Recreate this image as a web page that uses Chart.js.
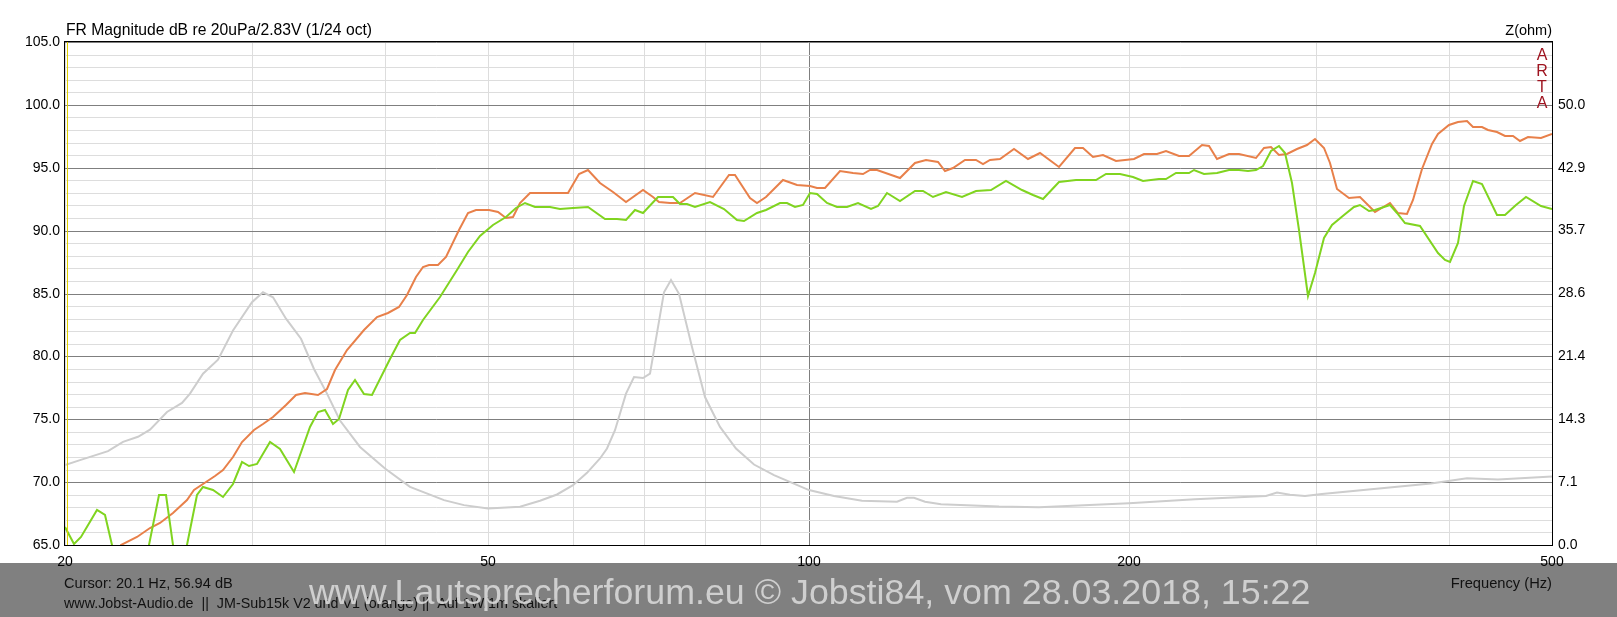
<!DOCTYPE html>
<html>
<head>
<meta charset="utf-8">
<title>JM-Sub15k V2 und V1 - FR Magnitude</title>
<script src="https://cdn.jsdelivr.net/npm/chart.js@4.4.1/dist/chart.umd.min.js"></script>
<style>
  html, body { margin: 0; padding: 0; background: #fff; }
  #fr-chart { display: block; }
</style>
</head>
<body>
<canvas id="fr-chart" width="1617" height="617"></canvas>
<script>
// V1 (orange): frequency (Hz) / SPL (dB)
const v1Freq = [20, 22.6, 23.36, 24.04, 24.56, 25.28, 26.04, 26.42, 26.98, 27.7, 28.18, 28.8, 29.33, 30.1, 30.7, 31.4, 32.3, 33.0, 33.6, 34.6, 35.27, 35.9, 36.82, 38.17, 39.3, 40.2, 41.2, 41.9, 42.8, 43.4, 44.0, 44.8, 45.6, 46.9, 47.8, 48.7, 50.1, 51.1, 51.9, 52.7, 53.5, 54.7, 57.6, 59.4, 60.9, 62.1, 63.7, 65.5, 67.4, 69.9, 71.4, 72.4, 74.1, 75.7, 78.2, 81.4, 84.1, 85.3, 88.1, 89.4, 91.3, 94.7, 97.5, 100.4, 101.8, 103.7, 107.1, 110.2, 112.6, 114.2, 115.9, 121.9, 126.0, 129.1, 132.4, 134.3, 136.8, 140.3, 143.8, 145.9, 148.1, 151.3, 156.0, 160.8, 164.9, 172.1, 177.9, 181.1, 185.1, 189.1, 194.6, 202.5, 206.8, 212.8, 216.7, 223.0, 227.8, 234.5, 237.9, 242.2, 248.5, 253.9, 263.2, 268.0, 271.9, 276.8, 281.8, 287.9, 294.5, 299.6, 305, 309.4, 313.9, 322, 330.1, 341, 352.1, 358.6, 365.1, 370.4, 377.1, 385.3, 390.9, 400, 408.1, 415.7, 421.7, 429.3, 435.6, 443.4, 451.5, 459.7, 466.3, 474.7, 488.5, 500];
const v1Db = [57, 65.0, 65.66, 66.32, 66.72, 67.57, 68.57, 69.37, 69.89, 70.48, 70.95, 72.0, 73.2, 74.13, 74.66, 75.19, 76.1, 76.9, 77.09, 76.9, 77.43, 78.89, 80.48, 82.06, 83.12, 83.44, 83.94, 84.87, 86.33, 87.13, 87.26, 87.26, 87.87, 90.05, 91.44, 91.65, 91.65, 91.46, 90.98, 91.06, 92.18, 93.03, 92.98, 92.98, 94.52, 94.79, 93.78, 93.11, 92.31, 93.24, 92.71, 92.31, 92.23, 92.23, 92.98, 92.71, 94.44, 94.44, 92.58, 92.23, 92.71, 93.99, 93.64, 93.54, 93.35, 93.35, 94.73, 94.55, 94.52, 94.81, 94.81, 94.2, 95.4, 95.61, 95.45, 94.73, 95.0, 95.59, 95.61, 95.27, 95.61, 95.66, 96.52, 95.66, 96.2, 95.08, 96.54, 96.54, 95.85, 96.01, 95.53, 95.66, 96.12, 96.06, 96.33, 95.93, 95.93, 96.81, 96.73, 95.72, 96.06, 96.12, 95.74, 96.6, 96.65, 95.98, 96.06, 96.46, 96.81, 97.31, 96.6, 95.4, 93.32, 92.61, 92.66, 91.46, 92.21, 91.41, 91.36, 92.47, 94.87, 96.86, 97.66, 98.38, 98.64, 98.72, 98.27, 98.24, 97.98, 97.87, 97.53, 97.53, 97.13, 97.45, 97.39, 97.66];

// V2 (green)
const v2Freq = [20.0, 20.4, 20.7, 21.42, 21.8, 22.13, 22.5, 23.7, 24.0, 24.5, 24.9, 25.25, 25.5, 25.8, 26.06, 26.6, 26.98, 27.57, 28.18, 28.8, 29.33, 29.76, 30.3, 31.2, 31.87, 32.86, 34.0, 34.6, 35.1, 35.7, 36.2, 36.87, 37.49, 38.17, 38.87, 40.45, 41.33, 42.24, 42.7, 43.4, 45.0, 46.7, 47.8, 49.1, 50.5, 52.0, 53.1, 54.1, 55.3, 57.2, 58.4, 60.0, 62.1, 64.4, 66.0, 67.4, 68.7, 69.9, 72.2, 74.6, 75.7, 76.8, 78.2, 80.8, 83.2, 85.6, 86.9, 89.4, 91.3, 94.0, 95.4, 97.1, 98.9, 100.4, 101.8, 104.0, 106.3, 108.6, 111.4, 114.5, 116.3, 118.4, 121.9, 126.0, 128.2, 131.0, 134.8, 139.3, 143.8, 148.6, 153.5, 158.6, 162.4, 166.1, 172.1, 178.5, 186.4, 190.5, 196.2, 201.8, 206.1, 213.6, 216.7, 221.4, 227.8, 230.2, 235.3, 242.2, 248.5, 253.9, 259, 263.2, 267.4, 271.9, 276.8, 280.7, 284.9, 289.0, 294.9, 299.6, 305, 310.5, 318.4, 325.5, 330.1, 336.4, 341, 352.1, 357.3, 363.6, 375.9, 390.9, 396.4, 401.2, 408.1, 413.1, 421.7, 429.3, 443.4, 451.5, 462.9, 473.1, 488.5, 500];
const v2Db = [66.46, 65.08, 65.66, 67.78, 67.38, 65.0, 60, 60, 65, 68.97, 68.97, 65, 60, 60, 65, 68.97, 69.63, 69.37, 68.84, 69.89, 71.61, 71.27, 71.48, 73.2, 72.67, 70.82, 74.39, 75.58, 75.71, 74.6, 75.05, 77.3, 78.1, 77.04, 76.9, 79.81, 81.27, 81.85, 81.85, 82.87, 84.73, 86.86, 88.32, 89.57, 90.45, 91.12, 91.78, 92.23, 91.86, 91.91, 91.73, 91.78, 91.86, 90.9, 90.93, 90.85, 91.65, 91.44, 92.66, 92.66, 92.1, 92.13, 91.86, 92.31, 91.7, 90.85, 90.8, 91.44, 91.65, 92.23, 92.23, 91.91, 92.05, 92.98, 92.95, 92.21, 91.86, 91.86, 92.21, 91.68, 91.99, 93.0, 92.34, 93.14, 93.14, 92.69, 93.09, 92.69, 93.14, 93.27, 93.94, 93.22, 92.87, 92.55, 93.86, 93.99, 93.99, 94.52, 94.52, 94.28, 93.94, 94.12, 94.12, 94.55, 94.55, 94.81, 94.52, 94.55, 94.79, 94.81, 94.73, 94.81, 95.13, 96.33, 96.73, 96.2, 93.8, 90.08, 84.81, 86.62, 89.41, 90.48, 91.28, 91.89, 92.07, 91.6, 91.62, 92.07, 91.41, 90.61, 90.35, 88.22, 87.69, 87.47, 89.02, 91.94, 93.94, 93.67, 91.28, 91.28, 92.07, 92.66, 91.99, 91.73];

// Impedance (light grey), ohm on the right axis
const zFreq = [20, 20.66, 21.96, 22.7, 23.44, 24.04, 24.93, 25.76, 26.22, 26.98, 27.88, 28.8, 30.0, 30.7, 31.4, 32.3, 33.3, 34.25, 35.27, 36.3, 37.9, 40.0, 42.24, 45.4, 47.4, 50.0, 53.6, 55.95, 58.0, 60.0, 61.9, 63.7, 64.7, 65.8, 67.3, 68.5, 69.9, 70.9, 71.5, 73.1, 74.3, 75.5, 77.7, 80.0, 82.6, 85.4, 88.8, 92.8, 100, 105.7, 112.3, 121.2, 123.8, 125.6, 128.8, 133.1, 151.2, 164.6, 200, 231, 269, 276, 283.6, 293, 303.6, 353.8, 385, 415.6, 445, 500];
const zOhm = [9.07, 9.64, 10.66, 11.71, 12.29, 13.11, 15.11, 16.14, 17.2, 19.46, 21.06, 24.37, 27.59, 28.71, 28.14, 25.71, 23.43, 20.0, 17.2, 14.14, 11.14, 8.69, 6.61, 5.1, 4.53, 4.16, 4.34, 5.03, 5.74, 6.8, 8.2, 9.83, 10.96, 13.04, 17.2, 19.09, 18.97, 19.46, 22.11, 28.71, 30.11, 28.53, 22.49, 16.81, 13.41, 10.96, 9.14, 7.94, 6.24, 5.56, 5.03, 4.91, 5.37, 5.37, 4.91, 4.64, 4.37, 4.29, 4.74, 5.2, 5.57, 5.96, 5.71, 5.57, 5.8, 6.57, 7.0, 7.57, 7.43, 7.77];

// Axes
const xGridFreqs = [20, 30, 40, 50, 60, 70, 80, 90, 100, 200, 300, 400, 500];
const xTickLabels = [20, 50, 100, 200, 500];
const dbMin = 65;
const dbMax = 105;
const dbLabelStep = 5;
const zMax = 400 / 7;
const zTickLabels = ["0.0", "7.1", "14.3", "21.4", "28.6", "35.7", "42.9", "50.0"];
const cursorFreq = 20.1;

const FONT = "'Liberation Sans', Arial, sans-serif";
const MAJOR_GRID = "#7f7f7f";
const MINOR_GRID = "#dddddd";

const toPoints = (xs, ys) => xs.map((x, i) => ({ x, y: ys[i] }));

// Frame, footer and labels the ARTA window draws around the graph
const artaFrame = {
  id: "artaFrame",
  beforeDraw(chart) {
    const { ctx, width, height } = chart;
    ctx.save();
    ctx.fillStyle = "#ffffff";
    ctx.fillRect(0, 0, width, height);
    ctx.fillStyle = "#808080";
    ctx.fillRect(0, 563, width, height - 563);
    ctx.restore();
  },
  afterDatasetsDraw(chart) {
    const { ctx, chartArea: a, scales } = chart;
    ctx.save();
    // cursor
    const cx = Math.round(scales.x.getPixelForValue(cursorFreq)) + 0.5;
    ctx.strokeStyle = "#e0d000";
    ctx.lineWidth = 1;
    ctx.beginPath();
    ctx.moveTo(cx, a.top);
    ctx.lineTo(cx, a.bottom);
    ctx.stroke();
    // plot border
    ctx.strokeStyle = "#000";
    ctx.strokeRect(Math.round(a.left) - 0.5, Math.round(a.top) - 0.5,
      Math.round(a.right - a.left) + 1, Math.round(a.bottom - a.top) + 1);
    ctx.restore();
  },
  afterDraw(chart) {
    const { ctx, chartArea: a } = chart;
    ctx.save();
    ctx.fillStyle = "#000";
    ctx.font = `15.7px ${FONT}`;
    ctx.textBaseline = "middle";
    ctx.textAlign = "left";
    ctx.fillText("FR Magnitude dB re 20uPa/2.83V (1/24 oct)", a.left + 1, 31);
    ctx.font = `14.5px ${FONT}`;
    ctx.textAlign = "right";
    ctx.fillText("Z(ohm)", a.right, 31);

    // ARTA mark
    ctx.fillStyle = "#9e1420";
    ctx.font = `16px ${FONT}`;
    ctx.textAlign = "center";
    ["A", "R", "T", "A"].forEach((ch, i) => ctx.fillText(ch, a.right - 10, 56 + i * 16));

    // footer texts
    ctx.fillStyle = "#111";
    ctx.font = `14.6px ${FONT}`;
    ctx.textAlign = "left";
    ctx.fillText("Cursor: 20.1 Hz, 56.94 dB", 64, 584);
    ctx.font = `14.3px ${FONT}`;
    ctx.fillText("www.Jobst-Audio.de  ||  JM-Sub15k V2 und V1 (orange) ||  Auf 1W/1m skaliert", 64, 604);
    ctx.font = `14.7px ${FONT}`;
    ctx.textAlign = "right";
    ctx.fillText("Frequency (Hz)", a.right, 584);

    // watermark
    const wm = "www.Lautsprecherforum.eu \u00a9 Jobsti84, vom 28.03.2018, 15:22";
    ctx.font = `36px ${FONT}`;
    const size = 36 * 1001 / ctx.measureText(wm).width;
    ctx.font = `${size.toFixed(1)}px ${FONT}`;
    ctx.fillStyle = "rgba(214,214,214,0.92)";
    ctx.textAlign = "left";
    ctx.textBaseline = "alphabetic";
    ctx.fillText(wm, 309, 604);
    ctx.restore();
  },
};

const ctx = document.getElementById("fr-chart").getContext("2d");

new Chart(ctx, {
  type: "line",
  data: {
    datasets: [
      {
        label: "Z",
        data: toPoints(zFreq, zOhm),
        yAxisID: "z",
        borderColor: "#cdcdcd",
        borderWidth: 2,
        order: 3,
      },
      {
        label: "V1",
        data: toPoints(v1Freq, v1Db),
        yAxisID: "y",
        borderColor: "#e8804a",
        borderWidth: 2,
        order: 2,
      },
      {
        label: "V2",
        data: toPoints(v2Freq, v2Db),
        yAxisID: "y",
        borderColor: "#80d420",
        borderWidth: 2,
        order: 1,
      },
    ],
  },
  options: {
    responsive: false,
    devicePixelRatio: 1,
    animation: false,
    parsing: false,
    layout: { padding: { top: 42, left: 0, right: 0, bottom: 0 } },
    elements: {
      point: { radius: 0 },
      line: { tension: 0, fill: false },
    },
    plugins: {
      legend: { display: false },
      tooltip: { enabled: false },
    },
    scales: {
      x: {
        type: "logarithmic",
        min: 20,
        max: 500,
        alignToPixels: true,
        afterBuildTicks: (s) => {
          s.ticks = xGridFreqs.map((v) => ({ value: v }));
        },
        afterFit: (s) => {
          s.height = 72;
        },
        border: { display: false },
        grid: {
          drawTicks: false,
          lineWidth: 1,
          color: (c) => (c.tick && c.tick.value === 100 ? MAJOR_GRID : MINOR_GRID),
        },
        ticks: {
          autoSkip: false,
          maxRotation: 0,
          padding: 9,
          color: "#000",
          font: { family: FONT, size: 14 },
          callback: (v) => (xTickLabels.includes(v) ? String(v) : ""),
        },
      },
      y: {
        position: "left",
        min: dbMin,
        max: dbMax,
        alignToPixels: true,
        afterBuildTicks: (s) => {
          const t = [];
          for (let v = dbMin; v <= dbMax; v++) t.push({ value: v });
          s.ticks = t;
        },
        afterFit: (s) => {
          s.width = 65;
        },
        border: { display: false },
        grid: {
          drawTicks: false,
          lineWidth: 1,
          color: (c) => (c.tick && c.tick.value % dbLabelStep === 0 ? MAJOR_GRID : MINOR_GRID),
        },
        ticks: {
          autoSkip: false,
          padding: 5,
          color: "#000",
          font: { family: FONT, size: 14 },
          callback: (v) => (v % dbLabelStep === 0 ? v.toFixed(1) : ""),
        },
      },
      z: {
        position: "right",
        min: 0,
        max: zMax,
        afterBuildTicks: (s) => {
          s.ticks = zTickLabels.map((_, i) => ({ value: (i * zMax) / 8 }));
        },
        afterFit: (s) => {
          s.width = 65;
        },
        border: { display: false },
        grid: { display: false, drawTicks: false },
        ticks: {
          autoSkip: false,
          padding: 6,
          color: "#000",
          font: { family: FONT, size: 14 },
          callback: (v, i) => zTickLabels[i],
        },
      },
    },
  },
  plugins: [artaFrame],
});
</script>
</body>
</html>
